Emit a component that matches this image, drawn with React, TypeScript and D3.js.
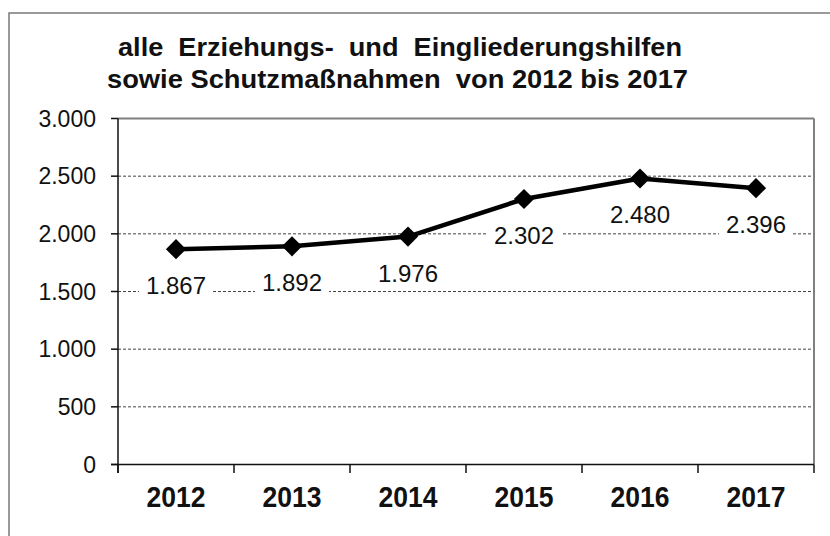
import React from "react";
import * as d3 from "d3";

const years = ["2012", "2013", "2014", "2015", "2016", "2017"];
const values = [1867, 1892, 1976, 2302, 2480, 2396];
const yTicks = [0, 500, 1000, 1500, 2000, 2500, 3000];
const titleLines = [
  "alle  Erziehungs-  und  Eingliederungshilfen",
  "sowie Schutzmaßnahmen  von 2012 bis 2017",
];

const W = 830;
const H = 536;
const font = "'Liberation Sans', Arial, sans-serif";

export default function App() {
  const x = d3.scaleBand<string>().domain(years).range([118, 814]);
  const y = d3.scaleLinear().domain([0, 3000]).range([464.5, 118.5]);
  const fmt = (v: number) => d3.format(",")(v).replace(/,/g, ".");
  const line = d3
    .line<number>()
    .x((_, i) => (x(years[i]) as number) + x.bandwidth() / 2)
    .y((v) => y(v));
  const diamond = d3.symbol().type(d3.symbolDiamond2).size(260)();
  const labelFs = 24;
  const bounds = x.range();
  const boundaries = [...years.map((yr) => x(yr) as number), bounds[1]];

  return (
    <svg
      width={W}
      height={H}
      style={{ position: "fixed", left: 0, top: 0, background: "#fff" }}
      fontFamily={font}
    >
      <rect x={0} y={0} width={W} height={H} fill="#fff" />
      {/* outer frame */}
      <rect x={9} y={13} width={W} height={H} fill="none" stroke="#7a7a7a" strokeWidth={1.5} />
      {/* title */}
      {titleLines.map((t, i) => (
        <text
          key={i}
          x={i === 0 ? 400 : 397.5}
          y={i === 0 ? 56 : 88}
          textAnchor="middle"
          fontSize={26}
          fontWeight="bold"
          textLength={i === 0 ? 564 : 581}
          lengthAdjust="spacingAndGlyphs"
          style={{ whiteSpace: "pre" }}
          fill="#111"
        >
          {t}
        </text>
      ))}
      {/* gridlines */}
      {yTicks
        .filter((t) => t > 0 && t < 3000)
        .map((t) => (
          <line
            key={t}
            x1={118}
            x2={814}
            y1={y(t)}
            y2={y(t)}
            stroke="#444"
            strokeWidth={1}
            strokeDasharray="3,2"
          />
        ))}
      {/* plot frame top/right */}
      <line x1={118} x2={814} y1={y(3000)} y2={y(3000)} stroke="#808080" strokeWidth={2} />
      <line x1={814} x2={814} y1={y(3000)} y2={y(0)} stroke="#808080" strokeWidth={2} />
      {/* y axis */}
      <line x1={118} x2={118} y1={y(3000)} y2={473} stroke="#111" strokeWidth={1.5} />
      {yTicks.map((t) => (
        <g key={t}>
          <line x1={111} x2={118} y1={y(t)} y2={y(t)} stroke="#111" strokeWidth={1.5} />
          <text
            x={96}
            y={y(t)}
            dy="0.35em"
            textAnchor="end"
            fontSize={23}
            fill="#111"
          >
            {fmt(t)}
          </text>
        </g>
      ))}
      {/* x axis */}
      <line x1={111} x2={814} y1={y(0)} y2={y(0)} stroke="#111" strokeWidth={1.5} />
      {boundaries.map((b, i) => (
        <line key={i} x1={b} x2={b} y1={y(0)} y2={473} stroke="#111" strokeWidth={1.5} />
      ))}
      {years.map((yr) => (
        <text
          key={yr}
          x={(x(yr) as number) + x.bandwidth() / 2}
          y={507}
          textAnchor="middle"
          fontSize={29}
          fontWeight="bold"
          textLength={59}
          lengthAdjust="spacingAndGlyphs"
          fill="#111"
        >
          {yr}
        </text>
      ))}
      {/* data labels */}
      {values.map((v, i) => {
        const cx = (x(years[i]) as number) + x.bandwidth() / 2;
        const by = y(v) + 45;
        const tw = 2.5 * labelFs;
        return (
          <g key={i}>
            <rect x={cx - tw / 2 - 7} y={by - 21} width={tw + 14} height={27} fill="#fff" />
            <text x={cx} y={by} textAnchor="middle" fontSize={labelFs} fill="#111">
              {fmt(v)}
            </text>
          </g>
        );
      })}
      {/* line */}
      <path d={line(values) as string} fill="none" stroke="#000" strokeWidth={4.5} strokeLinejoin="round" />
      {values.map((v, i) => (
        <path
          key={i}
          d={diamond as string}
          transform={`translate(${(x(years[i]) as number) + x.bandwidth() / 2},${y(v)})`}
          fill="#000"
        />
      ))}
    </svg>
  );
}
